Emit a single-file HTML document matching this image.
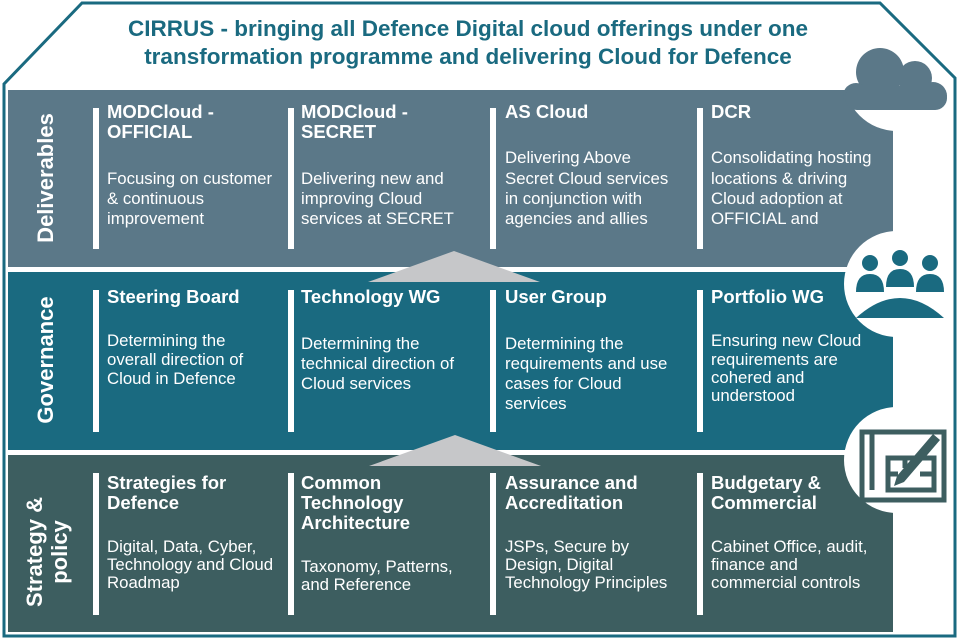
<!DOCTYPE html>
<html><head><meta charset="utf-8"><style>
html,body{margin:0;padding:0;background:#fff}
svg{display:block}
text{font-family:"Liberation Sans",Arial,sans-serif}
.h{font-size:18.5px;font-weight:bold;fill:#fff}
.b{font-size:16.8px;fill:#fff}
</style></head><body>
<svg width="960" height="640" viewBox="0 0 960 640" xmlns="http://www.w3.org/2000/svg">
<polygon points="4,636 4,84 82,3 880,3 955,78 955,636" fill="#fff"/>
<text x="468" y="36" text-anchor="middle" font-size="22.5" font-weight="bold" fill="#1a6a80">CIRRUS - bringing all Defence Digital cloud offerings under one</text>
<text x="468" y="64" text-anchor="middle" font-size="22.5" font-weight="bold" fill="#1a6a80">transformation programme and delivering Cloud for Defence</text>

<rect x="8" y="90" width="885" height="177" fill="#5b7888"/>
<rect x="8" y="272" width="885" height="178" fill="#1a6a80"/>
<rect x="8" y="455" width="885" height="177" fill="#3d5e60"/>
<circle cx="897" cy="78" r="53" fill="#fff"/>
<circle cx="897" cy="284" r="53" fill="#fff"/>
<circle cx="897" cy="460" r="53" fill="#fff"/>
<polygon points="4,636 4,84 82,3 880,3 955,78 955,636" fill="none" stroke="#1a6a80" stroke-width="3"/>

<!-- cloud -->
<g fill="#5b7888">
<circle cx="880" cy="72" r="24"/><circle cx="915" cy="78" r="17"/><circle cx="933" cy="96" r="14"/><circle cx="856" cy="96" r="13"/>
<rect x="845" y="86" width="102" height="24" rx="12"/>
</g>
<!-- people -->
<g fill="#1a6a80">
<circle cx="870" cy="263" r="8"/><circle cx="900" cy="258" r="8"/><circle cx="930" cy="263" r="8"/>
<path d="M856,292 q0,-18 14,-18 q14,0 14,18z"/><path d="M886,287 q0,-18 14,-18 q14,0 14,18z"/><path d="M916,292 q0,-18 14,-18 q14,0 14,18z"/>
<path d="M856,318 q44,-40 88,0z"/>
</g>
<!-- blueprint -->
<g fill="none" stroke="#3d5e60" stroke-width="5">
<rect x="862" y="432" width="82" height="68"/>
<line x1="872" y1="432" x2="872" y2="490"/>
<path d="M888,458 h46 v32 h-46z M888,474 h10 M920,474 h14 M905,458 v10"/>
</g>
<path d="M897,476 l36,-42 l7,6 l-36,42 l-10,4z" fill="#3d5e60"/>

<text transform="translate(53,178) rotate(-90)" text-anchor="middle" font-size="22" font-weight="bold" fill="#fff">Deliverables</text>
<text transform="translate(53,360) rotate(-90)" text-anchor="middle" font-size="22" font-weight="bold" fill="#fff">Governance</text>
<text transform="translate(42,552) rotate(-90)" text-anchor="middle" font-size="22" font-weight="bold" fill="#fff">Strategy &amp;</text>
<text transform="translate(67,552) rotate(-90)" text-anchor="middle" font-size="22" font-weight="bold" fill="#fff">policy</text>

<polygon points="368,282 454,251 540,282" fill="#c6c7c9"/>
<polygon points="369,466 455,435 541,466" fill="#c6c7c9"/>

<g fill="#fff">
<rect x="93" y="108" width="6" height="141"/><rect x="288" y="108" width="6" height="141"/><rect x="490" y="108" width="6" height="141"/><rect x="697" y="108" width="6" height="141"/>
<rect x="93" y="290" width="6" height="142"/><rect x="288" y="290" width="6" height="142"/><rect x="490" y="290" width="6" height="142"/><rect x="697" y="290" width="6" height="142"/>
<rect x="93" y="473" width="6" height="142"/><rect x="288" y="473" width="6" height="142"/><rect x="490" y="473" width="6" height="142"/><rect x="697" y="473" width="6" height="142"/>
</g>

<text class="h" x="107" y="118">MODCloud -</text><text class="h" x="107" y="138">OFFICIAL</text>
<text class="b" x="107" y="184">Focusing on customer</text><text class="b" x="107" y="204">&amp; continuous</text><text class="b" x="107" y="224">improvement</text>
<text class="h" x="301" y="118">MODCloud -</text><text class="h" x="301" y="138">SECRET</text>
<text class="b" x="301" y="184">Delivering new and</text><text class="b" x="301" y="204">improving Cloud</text><text class="b" x="301" y="224">services at SECRET</text>
<text class="h" x="505" y="118">AS Cloud</text>
<text class="b" x="505" y="163">Delivering Above</text><text class="b" x="505" y="184">Secret Cloud services</text><text class="b" x="505" y="204">in conjunction with</text><text class="b" x="505" y="224">agencies and allies</text>
<text class="h" x="711" y="118">DCR</text>
<text class="b" x="711" y="163">Consolidating hosting</text><text class="b" x="711" y="184">locations &amp; driving</text><text class="b" x="711" y="204">Cloud adoption at</text><text class="b" x="711" y="224">OFFICIAL and</text>

<text class="h" x="107" y="303">Steering Board</text>
<text class="b" x="107" y="346">Determining the</text><text class="b" x="107" y="365">overall direction of</text><text class="b" x="107" y="384">Cloud in Defence</text>
<text class="h" x="301" y="303">Technology WG</text>
<text class="b" x="301" y="349">Determining the</text><text class="b" x="301" y="369">technical direction of</text><text class="b" x="301" y="389">Cloud services</text>
<text class="h" x="505" y="303">User Group</text>
<text class="b" x="505" y="349">Determining the</text><text class="b" x="505" y="369">requirements and use</text><text class="b" x="505" y="389">cases for Cloud</text><text class="b" x="505" y="409">services</text>
<text class="h" x="711" y="303">Portfolio WG</text>
<text class="b" x="711" y="346">Ensuring new Cloud</text><text class="b" x="711" y="365">requirements are</text><text class="b" x="711" y="383">cohered and</text><text class="b" x="711" y="401">understood</text>

<text class="h" x="107" y="489">Strategies for</text><text class="h" x="107" y="509">Defence</text>
<text class="b" x="107" y="552">Digital, Data, Cyber,</text><text class="b" x="107" y="570">Technology and Cloud</text><text class="b" x="107" y="588">Roadmap</text>
<text class="h" x="301" y="489">Common</text><text class="h" x="301" y="509">Technology</text><text class="h" x="301" y="529">Architecture</text>
<text class="b" x="301" y="572">Taxonomy, Patterns,</text><text class="b" x="301" y="590">and Reference</text>
<text class="h" x="505" y="489">Assurance and</text><text class="h" x="505" y="509">Accreditation</text>
<text class="b" x="505" y="552">JSPs, Secure by</text><text class="b" x="505" y="570">Design, Digital</text><text class="b" x="505" y="588">Technology Principles</text>
<text class="h" x="711" y="489">Budgetary &amp;</text><text class="h" x="711" y="509">Commercial</text>
<text class="b" x="711" y="552">Cabinet Office, audit,</text><text class="b" x="711" y="570">finance and</text><text class="b" x="711" y="588">commercial controls</text>
</svg>
</body></html>
